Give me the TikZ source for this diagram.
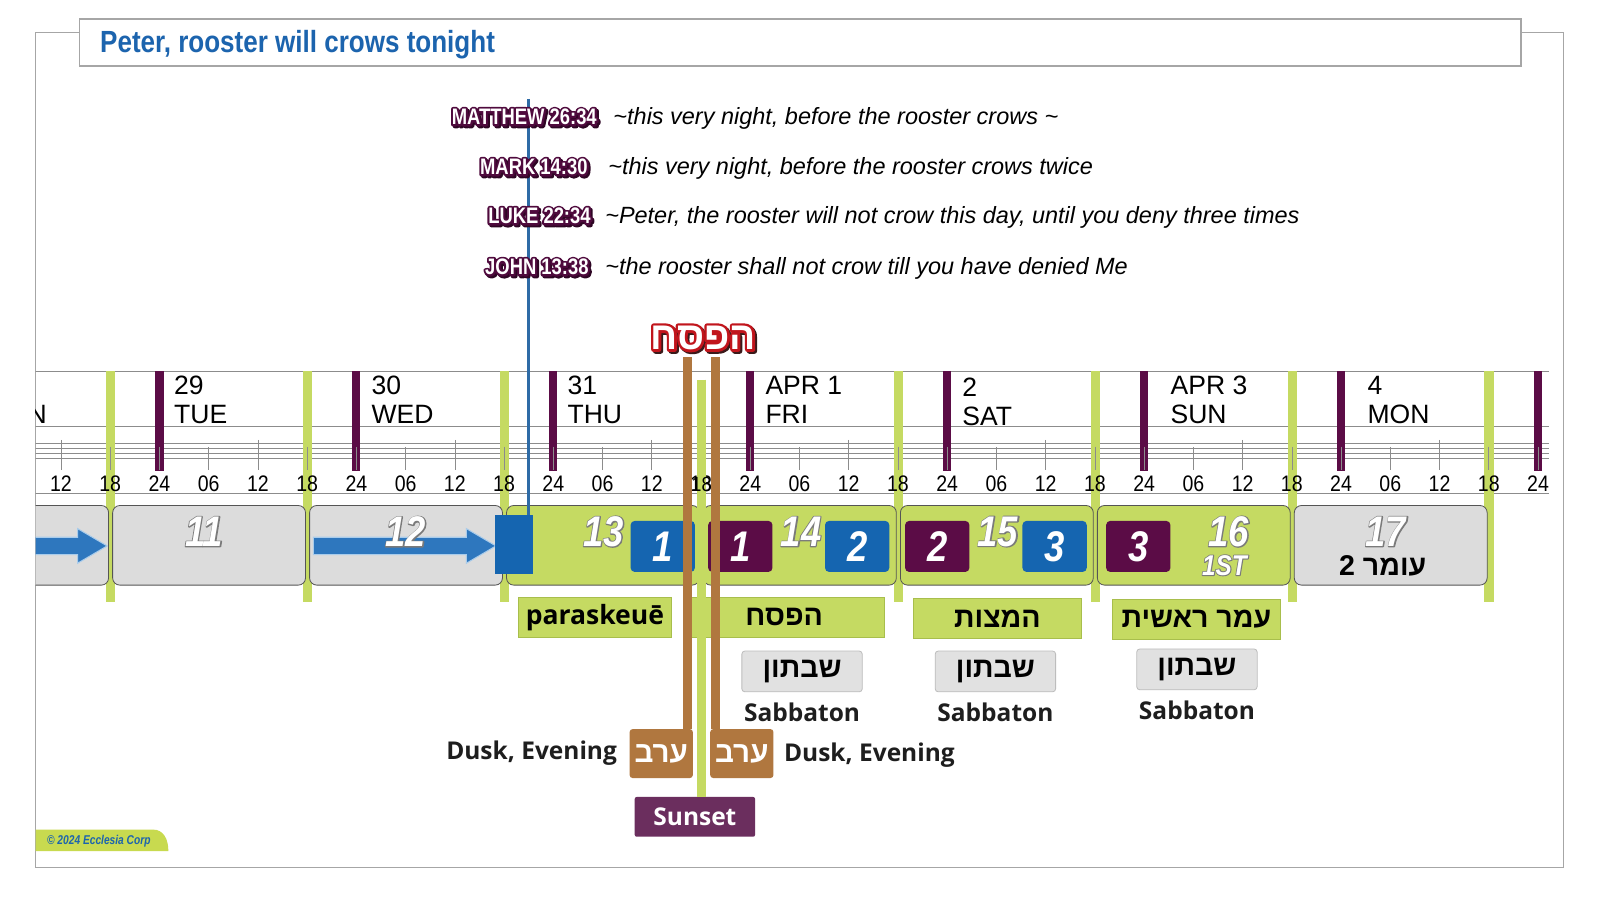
\documentclass[tikz,border=0pt]{standalone}
\usepackage{fontspec}
\setmainfont{Liberation Sans}
\newfontfamily\titlefont[FakeStretch=0.85]{Liberation Sans}
\newfontfamily\reffont[FakeStretch=0.82]{Liberation Sans}
\newfontfamily\hourfont[FakeStretch=0.87]{Liberation Sans}
\newfontfamily\numfont[FakeStretch=0.85]{Liberation Sans}
\newfontfamily\tabfont[FakeStretch=0.8]{Liberation Sans}
\newfontfamily\labelfont{Open Sans}
\newfontfamily\hebfont[Script=Hebrew]{Liberation Sans}
\TeXXeTstate=1
\usetikzlibrary{positioning}

\definecolor{framegray}{HTML}{A6A6A6}
\definecolor{gridgray}{HTML}{8C8C8C}
\definecolor{titleblue}{HTML}{1C64AE}
\definecolor{dayplum}{HTML}{5B0C46}
\definecolor{daygreen}{HTML}{C5DA62}
\definecolor{boxgray}{HTML}{DCDCDC}
\definecolor{boxedge}{HTML}{555555}
\definecolor{sqblue}{HTML}{1565B0}
\definecolor{arrowblue}{HTML}{2E77BE}
\definecolor{arrowedge}{HTML}{A9CCEB}
\definecolor{labeledge}{HTML}{A8BE4C}
\definecolor{shabgray}{HTML}{E1E1E1}
\definecolor{shabedge}{HTML}{BDBDBD}
\definecolor{textdark}{HTML}{1E1E1E}
\definecolor{copper}{HTML}{B0773F}
\definecolor{sunsetpurple}{HTML}{6B2E5E}
\definecolor{crowblue}{HTML}{2E6BA6}
\definecolor{hebred}{HTML}{C1151C}
\definecolor{hebshadow}{HTML}{3A1A1A}
\definecolor{refplum}{HTML}{4F0A3D}
\definecolor{refshadow}{HTML}{2E0624}
\definecolor{numrim}{HTML}{7A7A7A}
\definecolor{tabgreen}{HTML}{C8DA4F}

\newcommand\rimtext[4]{%
  \begingroup\setbox0=\hbox{#4}%
  \leavevmode\rlap{\color{#1}\special{pdf:literal direct 1 j #2 w 2 Tr}\copy0\special{pdf:literal direct 0 Tr}}%
  {\color{#3}\copy0}\endgroup}
\newcommand\shadowrimtext[5]{%
  \begingroup\setbox0=\hbox{#5}%
  \leavevmode\rlap{\kern1.8pt\lower1.8pt\hbox{\color{#2}\special{pdf:literal direct 1 j #3 w 2 Tr}\copy0\special{pdf:literal direct 0 Tr}}}%
  \rlap{\color{#1}\special{pdf:literal direct 1 j #3 w 2 Tr}\copy0\special{pdf:literal direct 0 Tr}}%
  {\color{#4}\copy0}\endgroup}

\begin{document}
\begin{tikzpicture}[x=1pt,y=-1pt,
    every node/.style={inner sep=0pt},
    frameline/.style={draw=framegray, line width=1.3pt},
    gridline/.style={draw=gridgray, line width=0.6pt},
    hourlab/.style={anchor=base, font=\hourfont\fontsize{22}{22}\selectfont},
    datelab/.style={anchor=base west, font=\fontsize{26}{26}\selectfont},
    daybox/.style={draw=boxedge, line width=0.8pt, rounded corners=7pt, minimum width=189pt, minimum height=78pt, anchor=north west},
    daynum/.style={font=\numfont\bfseries\itshape\fontsize{42}{42}\selectfont},
    numsq/.style={rounded corners=4pt, minimum width=63pt, minimum height=50pt, text=white, font=\numfont\bfseries\itshape\fontsize{42}{42}\selectfont},
    blockarrow/.style={fill=arrowblue, draw=arrowedge, line width=1pt},
    labelbox/.style={fill=daygreen, draw=labeledge, line width=0.6pt, minimum height=40pt, text=black, font=\hebfont\bfseries\fontsize{28}{28}\selectfont},
    shabbox/.style={fill=shabgray, draw=shabedge, line width=0.8pt, rounded corners=3pt, minimum width=118pt, minimum height=40pt, font=\hebfont\bfseries\fontsize{28}{28}\selectfont},
    labeltext/.style={font=\labelfont\bfseries\fontsize{24}{24}\selectfont, text=textdark},
    erevbox/.style={fill=copper, rounded corners=3pt, minimum width=62pt, minimum height=48pt, text=white, font=\hebfont\bfseries\fontsize{29}{29}\selectfont},
    copperline/.style={draw=copper, line width=9pt},
    sunsetline/.style={draw=daygreen, line width=9pt},
    crowline/.style={draw=crowblue, line width=3.5pt},
    reflab/.style={anchor=base east, font=\reffont\bfseries\fontsize{22}{22}\selectfont},
    quotetext/.style={anchor=base west, font=\itshape\fontsize{23}{23}\selectfont}]

    \useasboundingbox[fill=white] (0,0) rectangle (1568,882);

    \draw[frameline] (35,32) rectangle (1532,850);
    \node[draw=framegray, line width=1.3pt, fill=white, minimum width=1413pt, minimum height=46pt, anchor=north west] (titlebox) at (77,18) {};
    \node[anchor=base west, text=titleblue, font=\titlefont\bfseries\fontsize{30}{32}\selectfont] (title) at (98,51) {Peter, rooster will crows tonight};

    \begin{scope}
        \clip (35,340) rectangle (1568,600);
        \foreach \yy in {364,418,434,439,444,449,483} {
            \draw[gridline] (0,\yy) -- (1518,\yy);
        }
        \foreach \k in {0,1,2,4,5,6,7} {
            \fill[daygreen] ({108.25+193*\k-4.5},364) rectangle +(9,226);
        }
        \foreach \k in {0,...,7} {
            \fill[dayplum] ({156.25+193*\k-4},364) rectangle +(8,98);
        }
        \foreach \k in {-1,...,7} {
            \foreach \h/\hr in {0/24,1/06,2/12,3/18} {
                \pgfmathsetmacro\hx{156.25+193*\k+48.25*\h}
                \pgfmathsetmacro\tk{\h==2 ? 431 : 438}
                \ifdim\hx pt>40pt \ifdim\hx pt<1512pt
                    \draw[gridline] (\hx,\tk) -- (\hx,461);
                    \ifdim\hx pt=687.25pt\else
                        \node[hourlab] (hour\k\h) at (\hx,482) {\hr};
                    \fi
                \fi\fi
            }
        }
        \node[datelab] (wday0) at (-15,414.6) {MON};
        \foreach \dnum/\dname/\dx/\dy [count=\c] in {29/TUE/170.5/0, 30/WED/364/0, 31/THU/556/0, APR 1/FRI/750/0, 2/SAT/943/2, APR 3/SUN/1147/0, 4/MON/1340/0} {
            \node[datelab] (date\c) at (\dx,{387+\dy}) {\dnum};
            \node[datelab] (wday\c) at (\dx,{414.6+\dy}) {\dname};
        }
        \foreach \n/\col in {10/boxgray, 11/boxgray, 12/boxgray, 13/daygreen, 14/daygreen, 15/daygreen, 16/daygreen, 17/boxgray} {
            \node[daybox, fill=\col] (day\n) at ({110+193*(\n-11)},495) {};
        }
        \foreach \xa/\xb in {-20/105, 307/486} {
            \filldraw[blockarrow] (\xa,526.5) -- ({\xb-29},526.5) -- ({\xb-29},518) -- (\xb,535) -- ({\xb-29},552) -- ({\xb-29},543.5) -- (\xa,543.5) -- cycle;
        }
    \end{scope}

    \foreach \n/\dx in {11/-4.5, 12/0, 13/1, 14/1.5, 15/1.5, 16/34.5, 17/-4.5} {
        \node[daynum] (num\n) at ({110+193*(\n-11)+94.5+\dx},521) {\rimtext{numrim}{2}{white}{\n}};
    }
    \node[font=\numfont\bfseries\itshape\fontsize{28}{28}\selectfont] (first) at (1200,554) {\rimtext{numrim}{1.8}{white}{1ST}};
    \node[font=\hebfont\bfseries\fontsize{28}{28}\selectfont] (omer2) at (1355,555) {\beginR עומר 2\endR};

    \foreach \sq/\col/\xc [count=\j] in {1/sqblue/649.5, 1/dayplum/725.5, 2/sqblue/840, 2/dayplum/918.5, 3/sqblue/1033.5, 3/dayplum/1115.5} {
        \node[numsq, fill=\col] (sq\j) at (\xc,535.5) {\sq};
    }

    \node[fill=sqblue, minimum width=37pt, minimum height=58pt] (crowsq) at (503.5,534) {};
    \coordinate (crowtop) at (518,97);
    \draw[crowline] (crowtop) -- (crowtop |- crowsq.north);

    \node[labelbox, minimum width=150pt, font=\labelfont\bfseries\fontsize{26}{26}\selectfont] (paraskeue) at (583,605) {paraskeuē};
    \node[labelbox, minimum width=197pt] (pesachlab) at (768.5,605) {\beginR הפסח\endR};
    \node[labelbox, minimum width=165pt] (matzot) at (977.5,606) {\beginR המצות\endR};
    \node[labelbox, minimum width=165pt] (omer) at (1172.5,607) {\beginR עמר ראשית\endR};

    \foreach \sx/\sy [count=\s] in {786/658, 975.5/658, 1173/656} {
        \node[shabbox] (shab\s) at (\sx,\sy) {\beginR שבתון\endR};
        \node[labeltext, below=10pt of shab\s] (sabbaton\s) {Sabbaton};
    }

    \node[erevbox] (erevL) at (648,738.5) {\beginR ערב\endR};
    \node[erevbox] (erevR) at (727,738.5) {\beginR ערב\endR};
    \node[fill=sunsetpurple, rounded corners=2pt, minimum width=118pt, minimum height=39pt, text=white, font=\labelfont\bfseries\fontsize{24}{24}\selectfont] (sunset) at (681,800.5) {Sunset};
    \coordinate (sunsettop) at (687.5,372);
    \coordinate (pesachL) at (674,350);
    \coordinate (pesachR) at (701.3,350);
    \draw[sunsetline] (sunsettop) -- (sunsettop |- sunset.north);
    \draw[copperline] (pesachL) -- (pesachL |- erevL.north);
    \draw[copperline] (pesachR) -- (pesachR |- erevR.north);
    \node[hourlab, font=\hourfont\fontsize{20}{20}\selectfont] (hour23) at (687.5,482) {18};
    \node[labeltext, left=12pt of erevL] (duskL) {Dusk, Evening};
    \node[labeltext, right=10pt of erevR, yshift=-2pt] (duskR) {Dusk, Evening};

    \node (pesachhead) at (689,332) {\shadowrimtext{hebred}{hebshadow}{5}{white}{\hebfont\bfseries\fontsize{38}{38}\selectfont\beginR הפסח\endR}};

    \foreach \book/\says/\xr/\xq/\yb [count=\i] in {MATTHEW 26:34/\textasciitilde this very night{,} before the rooster crows \textasciitilde/585/601/122, MARK 14:30/\textasciitilde this very night{,} before the rooster crows twice/576/596/171, LUKE 22:34/\textasciitilde Peter{,} the rooster will not crow this day{,} until you deny three times/579/593/219, JOHN 13:38/\textasciitilde the rooster shall not crow till you have denied Me/577/593/269} {
        \node[reflab] (ref\i) at (\xr,\yb) {\shadowrimtext{refplum}{refshadow}{4}{white}{\book}};
        \node[quotetext] (quote\i) at (\xq,\yb) {\says};
    }

    \fill[tabgreen] (35,813) -- (150,813) .. controls (160,813) and (165,822) .. (165,834) -- (35,834) -- cycle;
    \node[anchor=west, text=titleblue, font=\tabfont\bfseries\itshape\fontsize{12.5}{12.5}\selectfont] (corp) at (46,824) {© 2024 Ecclesia Corp};
\end{tikzpicture}
\end{document}
